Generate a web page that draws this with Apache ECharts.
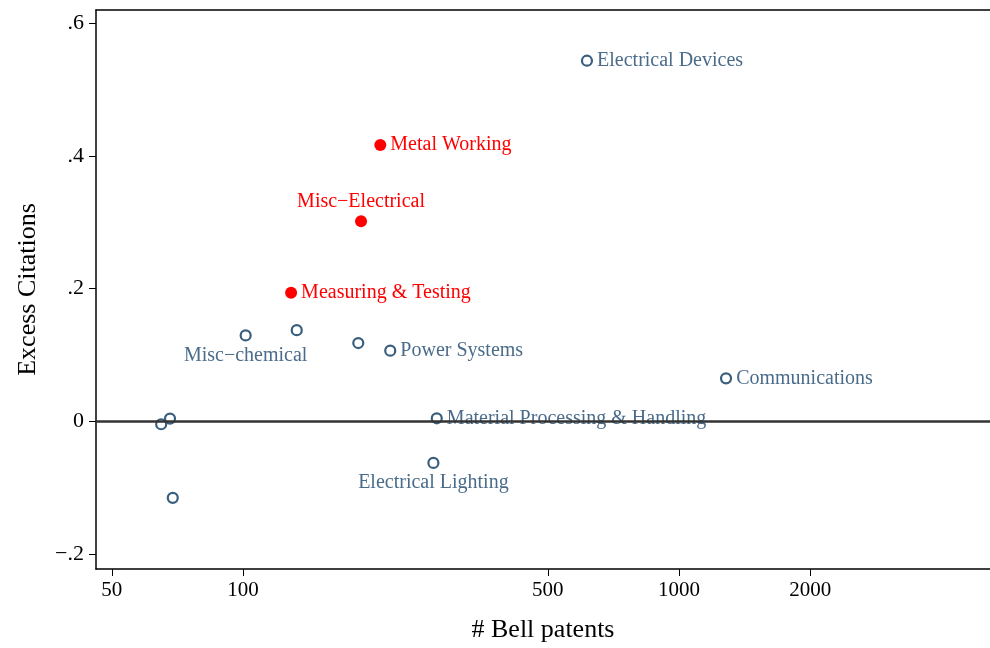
<!DOCTYPE html>
<html>
<head>
<meta charset="utf-8">
<script src="https://cdn.jsdelivr.net/npm/echarts@6/dist/echarts.min.js"></script>
<style>
  html, body { margin: 0; padding: 0; background: #fff; }
  #chart { width: 990px; height: 648px; }
</style>
</head>
<body>
<div id="chart"></div>
<script>
// Bell patents (x, log scale) vs excess citations (y)
var otherNames = ['Electrical Devices', 'Misc\u2212chemical', '', '', 'Power Systems', 'Communications',
                  'Material Processing & Handling', 'Electrical Lighting', '', '', ''];
var otherPatents = [615, 101.4, 132.8, 183.8, 217.6, 1282, 278.2, 273.3, 68.0, 64.9, 69.0];
var otherExcess = [0.544, 0.1295, 0.1375, 0.118, 0.1065, 0.0648, 0.0045, -0.0628, 0.004, -0.0045, -0.1155];

var redNames = ['Metal Working', 'Misc\u2212Electrical', 'Measuring & Testing'];
var redPatents = [206.5, 186.5, 128.9];
var redExcess = [0.4167, 0.3017, 0.1938];

var xTicks = [50, 100, 500, 1000, 2000];
var yTicks = [-0.2, 0, 0.2, 0.4, 0.6];

// label placement per name
var labelPos = {
    'Misc\u2212chemical': 'bottom',
    'Misc\u2212Electrical': 'top',
    'Electrical Lighting': 'bottom'
};

var FONT = 'Liberation Serif';
var chart = echarts.init(document.getElementById('chart'));

function pts(names, xs, ys) {
    return xs.map(function (x, i) {
        return {
            name: names[i],
            value: [Math.log10(x), ys[i]],
            label: { position: labelPos[names[i]] || 'right' }
        };
    });
}

function yLabel(v) {
    if (Math.abs(v) < 1e-9) return '0';
    var s = String(Math.round(v * 10) / 10).replace('0.', '.');
    return s.replace('-', '\u2212');
}

var xMin = Math.log10(46.0), xMax = Math.log10(5168);

var option = {
    animation: false,
    backgroundColor: '#fff',
    grid: { left: 96, right: 0, top: 10, bottom: 78 },
    xAxis: [{
        type: 'value',
        min: xMin,
        max: xMax,
        name: '# Bell patents',
        nameLocation: 'middle',
        nameGap: 48,
        nameTextStyle: { fontFamily: FONT, fontSize: 26, color: '#000' },
        splitLine: { show: false },
        axisLine: { onZero: false, lineStyle: { color: '#000', width: 1.5 } },
        axisTick: { length: 7, lineStyle: { color: '#000' }, customValues: xTicks.map(Math.log10) },
        axisLabel: {
            customValues: xTicks.map(Math.log10),
            fontFamily: FONT, fontSize: 21, color: '#000', margin: 11,
            formatter: function (v) { return String(Math.round(Math.pow(10, v))); }
        }
    }, {
        // top frame line only
        type: 'value', position: 'top', min: xMin, max: xMax,
        axisLine: { onZero: false, lineStyle: { color: '#000', width: 1.5 } },
        axisTick: { show: false }, axisLabel: { show: false }, splitLine: { show: false }
    }],
    yAxis: {
        type: 'value',
        min: -0.2229,
        max: 0.6205,
        name: 'Excess Citations',
        nameLocation: 'middle',
        nameGap: 55,
        nameTextStyle: { fontFamily: FONT, fontSize: 26, color: '#000' },
        splitLine: { show: false },
        axisLine: { show: true, lineStyle: { color: '#000', width: 1.5 } },
        axisTick: { show: true, length: 7, lineStyle: { color: '#000' }, customValues: yTicks },
        axisLabel: {
            customValues: yTicks,
            fontFamily: FONT, fontSize: 22, color: '#000', margin: 12,
            formatter: yLabel
        }
    },
    series: [
        {
            type: 'scatter',
            symbol: 'circle',
            symbolSize: 10,
            itemStyle: { color: '#fff', borderColor: '#3a5e7d', borderWidth: 2.2, opacity: 1 },
            label: {
                show: true,
                formatter: '{b}',
                distance: 4,
                fontFamily: FONT, fontSize: 20, color: '#4a6c8a'
            },
            data: pts(otherNames, otherPatents, otherExcess),
            markLine: {
                silent: true,
                symbol: ['none', 'none'],
                label: { show: false },
                lineStyle: { color: '#333', width: 2.5, type: 'solid' },
                data: [{ yAxis: 0 }]
            },
            z: 3
        },
        {
            type: 'scatter',
            symbol: 'circle',
            symbolSize: 12,
            itemStyle: { color: '#ff0000', opacity: 1 },
            label: {
                show: true,
                formatter: '{b}',
                distance: 4,
                fontFamily: FONT, fontSize: 20, color: '#ff0000'
            },
            data: pts(redNames, redPatents, redExcess),
            z: 4
        }
    ]
};

chart.setOption(option);
</script>
</body>
</html>
